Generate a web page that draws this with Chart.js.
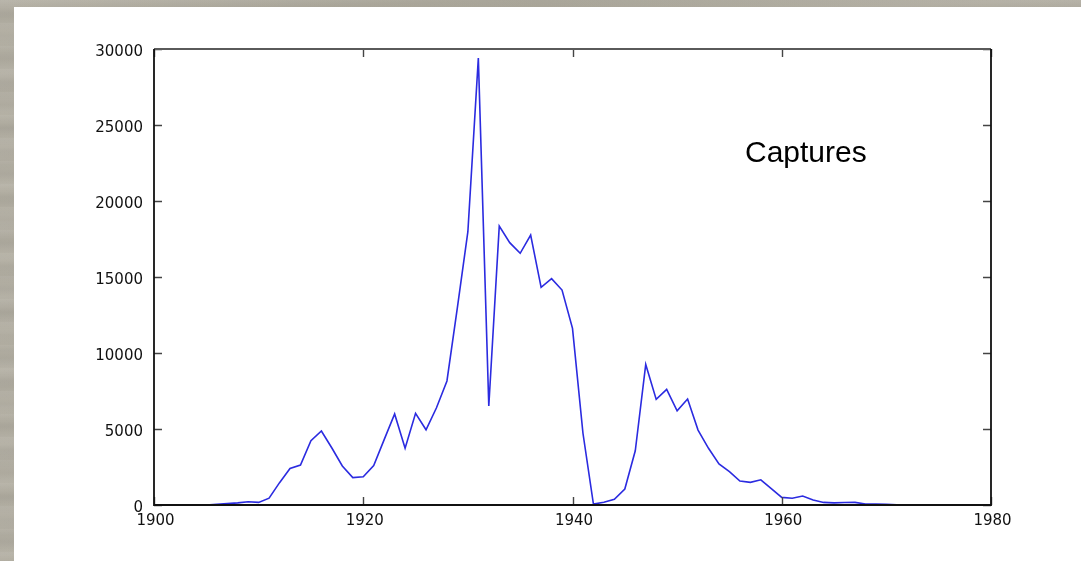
<!DOCTYPE html>
<html>
<head>
<meta charset="utf-8">
<title>Captures</title>
<script src="https://cdn.jsdelivr.net/npm/chart.js@4/dist/chart.umd.min.js"></script>
<style>
  html, body { margin: 0; padding: 0; }
  body {
    width: 1081px; height: 561px; overflow: hidden; position: relative;
    background-color: #aeaa9e;
    background-image:
      repeating-linear-gradient(180deg, rgba(255,255,255,0.05) 0px, rgba(255,255,255,0) 7px, rgba(0,0,0,0.03) 13px, rgba(255,255,255,0) 23px),
      repeating-linear-gradient(178deg, rgba(255,255,255,0.04) 0px, rgba(0,0,0,0.03) 17px, rgba(255,255,255,0.04) 37px),
      linear-gradient(90deg, #b3afa3, #aaa699 50%, #b0aca0);
  }
  #panel { position: absolute; left: 14px; top: 7px; right: 0; bottom: 0; background: #ffffff; }
  #chart { position: absolute; left: 0; top: 0; }
</style>
</head>
<body>
<div id="panel"></div>
<canvas id="chart" width="1081" height="561"></canvas>
<script>
// Yearly captures, 1905-1973
const years = [
  1905, 1906, 1907, 1908, 1909, 1910, 1911, 1912, 1913, 1914,
  1915, 1916, 1917, 1918, 1919, 1920, 1921, 1922, 1923, 1924,
  1925, 1926, 1927, 1928, 1929, 1930, 1931, 1932, 1933, 1934,
  1935, 1936, 1937, 1938, 1939, 1940, 1941, 1942, 1943, 1944,
  1945, 1946, 1947, 1948, 1949, 1950, 1951, 1952, 1953, 1954,
  1955, 1956, 1957, 1958, 1959, 1960, 1961, 1962, 1963, 1964,
  1965, 1966, 1967, 1968, 1969, 1970, 1971, 1972, 1973
];
const captures = [
  0, 40, 90, 140, 210, 170, 450, 1470, 2400, 2630,
  4230, 4870, 3750, 2570, 1800, 1860, 2590, 4300, 5990, 3730,
  6030, 4950, 6400, 8160, 13000, 17980, 29400, 6510, 18350, 17260,
  16560, 17760, 14320, 14890, 14140, 11620, 4720, 60, 180, 370,
  1050, 3570, 9250, 6950, 7610, 6200, 6970, 4930, 3730, 2700,
  2190, 1580, 1490, 1660, 1080, 500, 440, 590, 330, 170,
  140, 160, 170, 70, 70, 40, 20, 10, 0
];
const xTicks = [1900, 1920, 1940, 1960, 1980];
const yTicks = [0, 5000, 10000, 15000, 20000, 25000, 30000];
const seriesLabel = 'Captures';

const points = years.map((y, i) => ({ x: y, y: captures[i] }));

// Frame around the plot area with inward tick marks on all four sides
const framePlugin = {
  id: 'frame',
  afterDatasetsDraw(chart) {
    const { ctx, chartArea: a, scales } = chart;
    ctx.save();
    ctx.lineCap = 'butt';
    // inward ticks
    ctx.strokeStyle = '#444';
    ctx.lineWidth = 1.4;
    const tl = 8;
    scales.x.ticks.forEach(t => {
      const px = Math.round(scales.x.getPixelForValue(t.value)) + 0.5;
      ctx.beginPath();
      ctx.moveTo(px, a.bottom); ctx.lineTo(px, a.bottom - tl);
      ctx.moveTo(px, a.top); ctx.lineTo(px, a.top + tl);
      ctx.stroke();
    });
    scales.y.ticks.forEach(t => {
      const py = Math.round(scales.y.getPixelForValue(t.value)) + 0.5;
      ctx.beginPath();
      ctx.moveTo(a.left, py); ctx.lineTo(a.left + tl, py);
      ctx.moveTo(a.right, py); ctx.lineTo(a.right - tl, py);
      ctx.stroke();
    });
    // box
    ctx.lineWidth = 1.8;
    ctx.strokeStyle = '#5a5a5a';
    ctx.beginPath();
    ctx.moveTo(a.left, a.top); ctx.lineTo(a.right, a.top);
    ctx.stroke();
    ctx.strokeStyle = '#111';
    ctx.beginPath();
    ctx.moveTo(a.left, a.top); ctx.lineTo(a.left, a.bottom);
    ctx.lineTo(a.right, a.bottom); ctx.lineTo(a.right, a.top);
    ctx.stroke();
    // series label inside the plot
    ctx.fillStyle = '#000';
    ctx.font = '30px "Liberation Sans", Arial, sans-serif';
    ctx.textBaseline = 'alphabetic';
    ctx.textAlign = 'left';
    ctx.fillText(seriesLabel, 745, 162);
    ctx.restore();
  }
};

const tickFont = { family: '"DejaVu Sans", "Liberation Sans", sans-serif', size: 15 };

new Chart(document.getElementById('chart'), {
  type: 'line',
  data: {
    datasets: [{
      label: seriesLabel,
      data: points,
      borderColor: '#2b2be0',
      borderWidth: 1.6,
      pointRadius: 0,
      tension: 0,
      fill: false
    }]
  },
  options: {
    responsive: false,
    animation: false,
    layout: { padding: { left: 0, top: 49, right: 90, bottom: 0 } },
    plugins: {
      legend: { display: false },
      tooltip: { enabled: false },
      title: { display: false }
    },
    scales: {
      x: {
        type: 'linear',
        min: xTicks[0],
        max: xTicks[xTicks.length - 1],
        afterBuildTicks: s => { s.ticks = xTicks.map(v => ({ value: v })); },
        afterFit: s => { s.height = 56; },
        grid: { display: false, drawTicks: false },
        border: { display: false },
        ticks: {
          color: '#111',
          font: tickFont,
          padding: 7,
          labelOffset: 1.5,
          maxRotation: 0,
          callback: v => String(v)
        }
      },
      y: {
        type: 'linear',
        min: yTicks[0],
        max: yTicks[yTicks.length - 1],
        afterBuildTicks: s => { s.ticks = yTicks.map(v => ({ value: v })); },
        afterFit: s => { s.width = 154; },
        grid: { display: false, drawTicks: false },
        border: { display: false },
        ticks: {
          color: '#111',
          font: tickFont,
          padding: 11,
          labelOffset: 3.5,
          callback: v => String(v)
        }
      }
    }
  },
  plugins: [framePlugin]
});
</script>
</body>
</html>
